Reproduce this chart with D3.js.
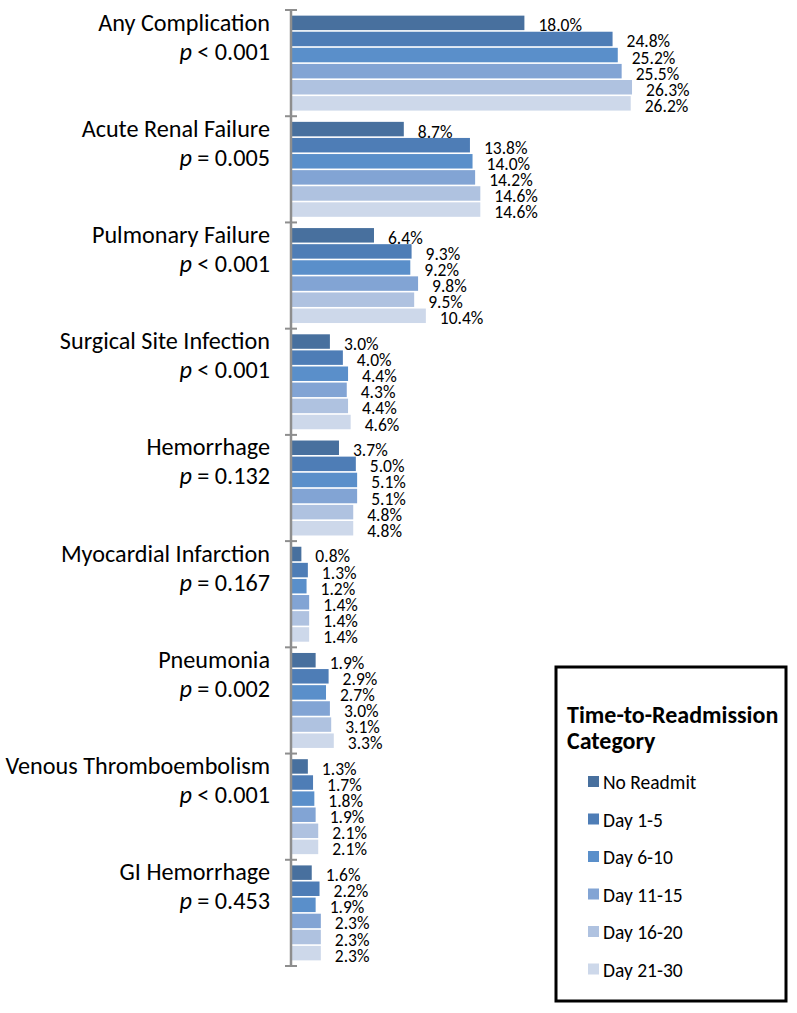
<!DOCTYPE html>
<html>
<head>
<meta charset="utf-8">
<script src="https://cdn.jsdelivr.net/npm/d3@7"></script>
<style>
  html, body { margin: 0; padding: 0; background: #fff; }
  svg { display: block; }
  text { font-family: Carlito, Lato, "Open Sans", sans-serif; fill: #000; }
</style>
</head>
<body>
<script>
const categories = ["Any Complication", "Acute Renal Failure", "Pulmonary Failure", "Surgical Site Infection",
  "Hemorrhage", "Myocardial Infarction", "Pneumonia", "Venous Thromboembolism", "GI Hemorrhage"];
const pOps = ["<", "=", "<", "<", "=", "=", "=", "<", "="];
const pVals = ["0.001", "0.005", "0.001", "0.001", "0.132", "0.167", "0.002", "0.001", "0.453"];
const seriesNames = ["No Readmit", "Day 1-5", "Day 6-10", "Day 11-15", "Day 16-20", "Day 21-30"];
const noReadmit = [18.0, 8.7, 6.4, 3.0, 3.7, 0.8, 1.9, 1.3, 1.6];
const day1_5    = [24.8, 13.8, 9.3, 4.0, 5.0, 1.3, 2.9, 1.7, 2.2];
const day6_10   = [25.2, 14.0, 9.2, 4.4, 5.1, 1.2, 2.7, 1.8, 1.9];
const day11_15  = [25.5, 14.2, 9.8, 4.3, 5.1, 1.4, 3.0, 1.9, 2.3];
const day16_20  = [26.3, 14.6, 9.5, 4.4, 4.8, 1.4, 3.1, 2.1, 2.3];
const day21_30  = [26.2, 14.6, 10.4, 4.6, 4.8, 1.4, 3.3, 2.1, 2.3];
const seriesValues = [noReadmit, day1_5, day6_10, day11_15, day16_20, day21_30];
const colors = ["#48709e", "#4e7db6", "#5a8fca", "#82a4d4", "#afc2e0", "#cdd8ea"];

const W = 797, H = 1013;
const svg = d3.select("body").append("svg").attr("width", W).attr("height", H);

const axisX = 291;
const x = d3.scaleLinear().domain([0, 30]).range([axisX, 680]);
const y = d3.scaleBand().domain(categories).range([10, 966]).padding(0);
const yInner = d3.scaleBand().domain(seriesNames).range([0, y.bandwidth()])
  .paddingInner(0.1).paddingOuter(0.35);

// bars
const groups = svg.append("g").selectAll("g").data(categories).join("g")
  .attr("transform", d => `translate(0,${y(d)})`);

groups.each(function(cat, ci) {
  const g = d3.select(this);
  seriesNames.forEach((s, si) => {
    const v = seriesValues[si][ci];
    g.append("rect")
      .attr("x", x(0) + 1)
      .attr("y", yInner(s))
      .attr("width", x(v) - x(0) - 1)
      .attr("height", yInner.bandwidth())
      .attr("fill", colors[si]);
    g.append("text")
      .attr("x", x(v) + 14)
      .attr("y", yInner(s) + yInner.bandwidth() / 2 + 8.5)
      .attr("font-size", 17.5)
      .text(v.toFixed(1) + "%");
  });
  g.append("text")
    .attr("x", 270).attr("y", 20.5)
    .attr("text-anchor", "end")
    .attr("font-size", 24.2)
    .text(cat);
  const t = g.append("text")
    .attr("x", 270).attr("y", 49.5)
    .attr("text-anchor", "end")
    .attr("font-size", 24.2);
  t.append("tspan").attr("font-style", "italic").text("p");
  t.append("tspan").text(" " + pOps[ci] + " " + pVals[ci]);
});

// axis
const axG = svg.append("g");
axG.append("line")
  .attr("x1", axisX).attr("x2", axisX)
  .attr("y1", y.range()[0]).attr("y2", y.range()[1])
  .attr("stroke", "#8e8e8e").attr("stroke-width", 2.5);
const tickYs = categories.map(c => y(c)).concat([y.range()[1]]);
axG.selectAll("line.tick").data(tickYs).join("line")
  .attr("class", "tick")
  .attr("x1", axisX - 6).attr("x2", axisX + 6)
  .attr("y1", d => d).attr("y2", d => d)
  .attr("stroke", "#8e8e8e").attr("stroke-width", 2);

// legend
const lg = svg.append("g");
lg.append("rect")
  .attr("x", 556).attr("y", 667).attr("width", 230).attr("height", 334)
  .attr("fill", "#fff").attr("stroke", "#000").attr("stroke-width", 3);
lg.append("text").attr("x", 567).attr("y", 723).attr("font-size", 24).attr("font-weight", "bold")
  .text("Time-to-Readmission");
lg.append("text").attr("x", 567).attr("y", 749).attr("font-size", 24).attr("font-weight", "bold")
  .text("Category");
const ly = d3.scaleBand().domain(seriesNames).range([770, 995]);
seriesNames.forEach((s, i) => {
  lg.append("rect")
    .attr("x", 588).attr("y", ly(s) + 6).attr("width", 11).attr("height", 11)
    .attr("fill", colors[i]);
  lg.append("text")
    .attr("x", 603).attr("y", ly(s) + 19)
    .attr("font-size", 19.5)
    .text(s);
});
</script>
</body>
</html>
